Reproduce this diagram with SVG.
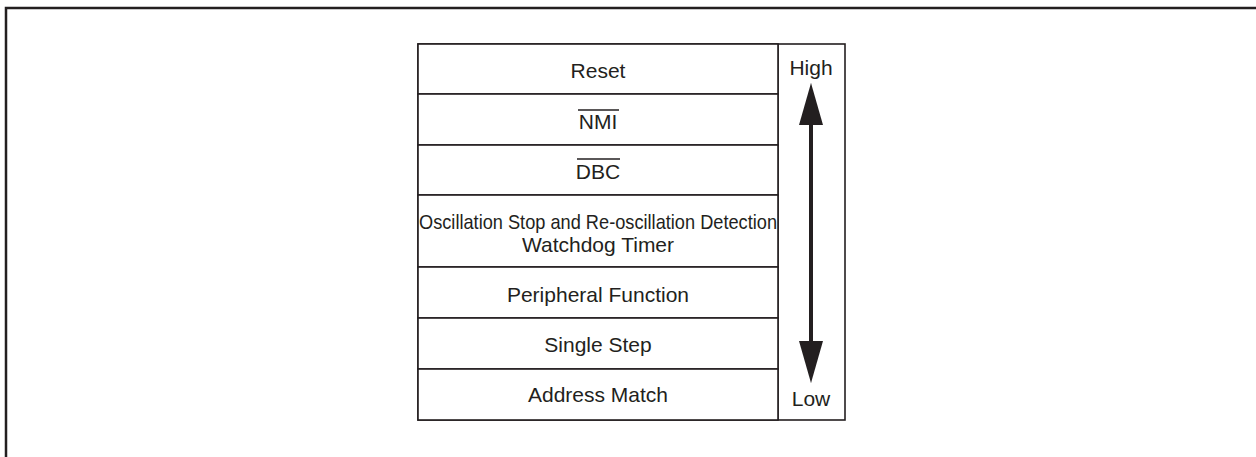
<svg xmlns="http://www.w3.org/2000/svg" width="1256" height="457" viewBox="0 0 1256 457">
<style>
.frame{fill:none;stroke:#231f20;stroke-width:2.5}
.cell{fill:#fff;stroke:#231f20;stroke-width:1.6}
.t{font-family:"Liberation Sans",Arial,sans-serif;font-size:21px;fill:#231f20;text-anchor:middle}
.ov{stroke:#231f20;stroke-width:1.3}
</style>
<defs>
<marker id="ah" viewBox="0 0 42 24" refX="42" refY="12" markerWidth="42" markerHeight="24" markerUnits="userSpaceOnUse" orient="auto">
<path d="M0,0 L42,12 L0,24 Z" fill="#231f20"/>
</marker>
</defs>
<rect width="1256" height="457" fill="#fff"/>
<path class="frame" d="M6,460 V8 H1260"/>
<g id="table">
<rect class="cell" x="418" y="44" width="427" height="376"/>
<line class="cell" x1="778" y1="44" x2="778" y2="420"/>
</g>
<g id="reset"><rect class="cell" x="418" y="44" width="360" height="50"/><text class="t" x="598" y="78">Reset</text></g>
<g id="nmi"><rect class="cell" x="418" y="94" width="360" height="51"/><text class="t" x="598" y="129">NMI</text><line class="ov" x1="578" y1="110" x2="619" y2="110"/></g>
<g id="dbc"><rect class="cell" x="418" y="145" width="360" height="50"/><text class="t" x="598" y="179">DBC</text><line class="ov" x1="577" y1="159" x2="620" y2="159"/></g>
<g id="osc"><rect class="cell" x="418" y="195" width="360" height="72"/>
<text class="t" x="598" y="229" textLength="358" lengthAdjust="spacingAndGlyphs">Oscillation Stop and Re-oscillation Detection</text>
<text class="t" x="598" y="252">Watchdog Timer</text></g>
<g id="periph"><rect class="cell" x="418" y="267" width="360" height="51"/><text class="t" x="598" y="302">Peripheral Function</text></g>
<g id="sstep"><rect class="cell" x="418" y="318" width="360" height="51"/><text class="t" x="598" y="352">Single Step</text></g>
<g id="addr"><rect class="cell" x="418" y="369" width="360" height="51"/><text class="t" x="598" y="402">Address Match</text></g>
<g id="high"><text class="t" x="811" y="75">High</text></g>
<g id="low"><text class="t" x="811" y="406">Low</text></g>
<g id="connectors">
<line x1="811" y1="123" x2="811" y2="342" stroke="#231f20" stroke-width="4"/>
<line x1="811" y1="125" x2="811" y2="83" stroke="#231f20" stroke-width="0.1" marker-end="url(#ah)"/>
<line x1="811" y1="340" x2="811" y2="383" stroke="#231f20" stroke-width="0.1" marker-end="url(#ah)"/>
</g>
</svg>
